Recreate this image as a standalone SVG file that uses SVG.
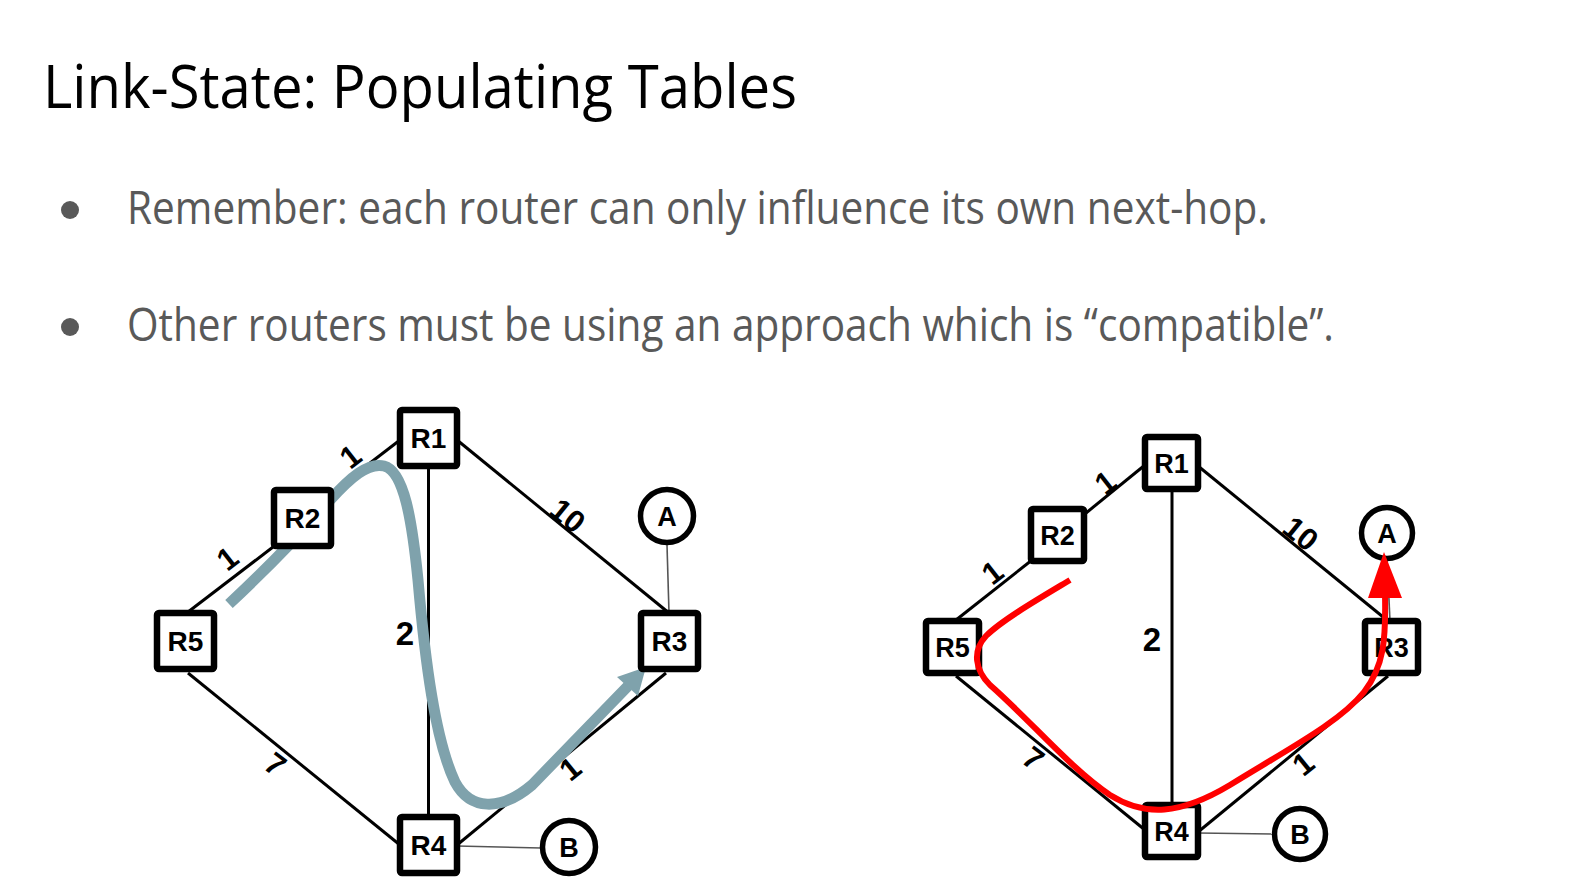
<svg xmlns="http://www.w3.org/2000/svg" width="1574" height="889" viewBox="0 0 1574 889">
  <style>
    .title { font-family: "Open Sans", "Liberation Sans", sans-serif; font-size: 60px; fill: #000; }
    .bullet { font-family: "Open Sans", "Liberation Sans", sans-serif; font-size: 45px; fill: #595959; }
    .edge { stroke: #000; stroke-width: 3; fill: none; }
    .host-link { stroke: #555; stroke-width: 1.6; fill: none; }
    .router rect { fill: #fff; stroke: #000; stroke-width: 6.5; }
    .host circle { fill: #fff; stroke: #000; stroke-width: 5.5; }
    .lbl { font-family: "Liberation Sans", Arial, sans-serif; font-weight: bold; text-anchor: middle; fill: #000; }
    .cost { font-family: "Liberation Sans", Arial, sans-serif; font-size: 31px; font-weight: bold; text-anchor: middle; fill: #000; }
    .cost2 { font-family: "Liberation Sans", Arial, sans-serif; font-size: 33px; font-weight: bold; text-anchor: middle; fill: #000; }
  </style>

  <rect width="1574" height="889" fill="#fff"/>

  <!-- heading and bullet points -->
  <text class="title" x="43" y="108" textLength="754" lengthAdjust="spacingAndGlyphs">Link-State: Populating Tables</text>
  <circle cx="70" cy="210" r="9" fill="#595959"/>
  <text class="bullet" x="127" y="224" textLength="1141" lengthAdjust="spacingAndGlyphs">Remember: each router can only influence its own next-hop.</text>
  <circle cx="70" cy="327" r="9" fill="#595959"/>
  <text class="bullet" x="127" y="341" textLength="1207" lengthAdjust="spacingAndGlyphs">Other routers must be using an approach which is “compatible”.</text>

  <!-- ===== left network ===== -->
  <g id="left-links">
    <line class="edge" x1="188" y1="612" x2="273" y2="547"/>
    <line class="edge" x1="331" y1="493" x2="400" y2="440"/>
    <line class="edge" x1="457" y1="440" x2="669" y2="613"/>
    <line class="edge" x1="188" y1="673" x2="400" y2="845"/>
    <line class="edge" x1="457" y1="845" x2="666" y2="673"/>
    <line class="edge" x1="428.5" y1="466" x2="428.5" y2="816"/>
    <line class="host-link" x1="667" y1="545" x2="669" y2="613"/>
    <line class="host-link" x1="457" y1="846" x2="541" y2="848"/>
    <text class="cost" transform="translate(234,567) rotate(-38)">1</text>
    <text class="cost" transform="translate(357,465) rotate(-38)">1</text>
    <text class="cost" transform="translate(561,524) rotate(39)">10</text>
    <text class="cost2" x="405" y="645">2</text>
    <text class="cost" transform="translate(269,773) rotate(37)">7</text>
    <text class="cost" transform="translate(577,777) rotate(-39)">1</text>
  </g>

  <!-- path followed through the left network -->
  <g id="left-route">
    <path d="M229,604 C260,575 300,535 330,500 C350,478 368,462 384,466 C404,471 412,520 418,580 C425,660 435,740 455,782 C470,810 500,812 532,785 L628,686" fill="none" stroke="#7fa2ac" stroke-width="11" stroke-linecap="butt"/>
    <polygon points="646,667 638,696 617,677" fill="#7fa2ac"/>
  </g>

  <g id="L-R1" class="router"><rect x="400" y="410" width="57" height="56" rx="2"/><text class="lbl" x="428.5" y="448" font-size="28">R1</text></g>
  <g id="L-R2" class="router"><rect x="274" y="490" width="57" height="56" rx="2"/><text class="lbl" x="302.5" y="528" font-size="28">R2</text></g>
  <g id="L-R5" class="router"><rect x="157" y="613" width="57" height="56" rx="2"/><text class="lbl" x="185.5" y="651" font-size="28">R5</text></g>
  <g id="L-R3" class="router"><rect x="641" y="613" width="57" height="56" rx="2"/><text class="lbl" x="669.5" y="651" font-size="28">R3</text></g>
  <g id="L-R4" class="router"><rect x="400" y="817" width="57" height="56" rx="2"/><text class="lbl" x="428.5" y="855" font-size="28">R4</text></g>
  <g id="L-A" class="host"><circle cx="667" cy="516" r="26.5"/><text class="lbl" x="667" y="526" font-size="27">A</text></g>
  <g id="L-B" class="host"><circle cx="569" cy="847" r="26.5"/><text class="lbl" x="569" y="857" font-size="27">B</text></g>

  <!-- ===== right network ===== -->
  <g id="right-links">
    <line class="edge" x1="956" y1="620" x2="1032" y2="560"/>
    <line class="edge" x1="1086" y1="513" x2="1145" y2="465"/>
    <line class="edge" x1="1198" y1="466" x2="1388" y2="621"/>
    <line class="edge" x1="956" y1="676" x2="1145" y2="830"/>
    <line class="edge" x1="1198" y1="832" x2="1388" y2="676"/>
    <line class="edge" x1="1172" y1="489" x2="1172" y2="805"/>
    <line class="host-link" x1="1387" y1="558" x2="1390" y2="621"/>
    <line class="host-link" x1="1198" y1="833" x2="1273" y2="834"/>
    <text class="cost" transform="translate(999,581) rotate(-38)">1</text>
    <text class="cost" transform="translate(1112,491) rotate(-38)">1</text>
    <text class="cost" transform="translate(1294,542) rotate(39)">10</text>
    <text class="cost2" x="1152" y="651">2</text>
    <text class="cost" transform="translate(1027,767) rotate(37)">7</text>
    <text class="cost" transform="translate(1310,772) rotate(-39)">1</text>
  </g>

  <g id="R-R1" class="router"><rect x="1145" y="437" width="53" height="52" rx="2"/><text class="lbl" x="1171.5" y="473" font-size="27">R1</text></g>
  <g id="R-R2" class="router"><rect x="1031" y="509" width="53" height="52" rx="2"/><text class="lbl" x="1057.5" y="545" font-size="27">R2</text></g>
  <g id="R-R5" class="router"><rect x="926" y="621" width="53" height="52" rx="2"/><text class="lbl" x="952.5" y="657" font-size="27">R5</text></g>
  <g id="R-R3" class="router"><rect x="1365" y="621" width="53" height="52" rx="2"/><text class="lbl" x="1391.5" y="657" font-size="27">R3</text></g>
  <g id="R-R4" class="router"><rect x="1145" y="805" width="53" height="52" rx="2"/><text class="lbl" x="1171.5" y="841" font-size="27">R4</text></g>
  <g id="R-A" class="host"><circle cx="1387" cy="533" r="25.5"/><text class="lbl" x="1387" y="543" font-size="27">A</text></g>
  <g id="R-B" class="host"><circle cx="1300" cy="834" r="25.5"/><text class="lbl" x="1300" y="844" font-size="27">B</text></g>

  <!-- path followed through the right network, drawn over the routers -->
  <g id="right-route">
    <path d="M1070,580 C1040,598 1002,620 986,636 C972,651 975,670 990,685 C1030,720 1070,768 1110,795 C1145,817 1180,815 1230,785 C1290,748 1340,722 1364,692 C1384,666 1386,640 1385,594" fill="none" stroke="#ff0000" stroke-width="6" stroke-linecap="butt"/>
    <polygon points="1384,552 1368,598 1402,598" fill="#ff0000"/>
  </g>
</svg>
